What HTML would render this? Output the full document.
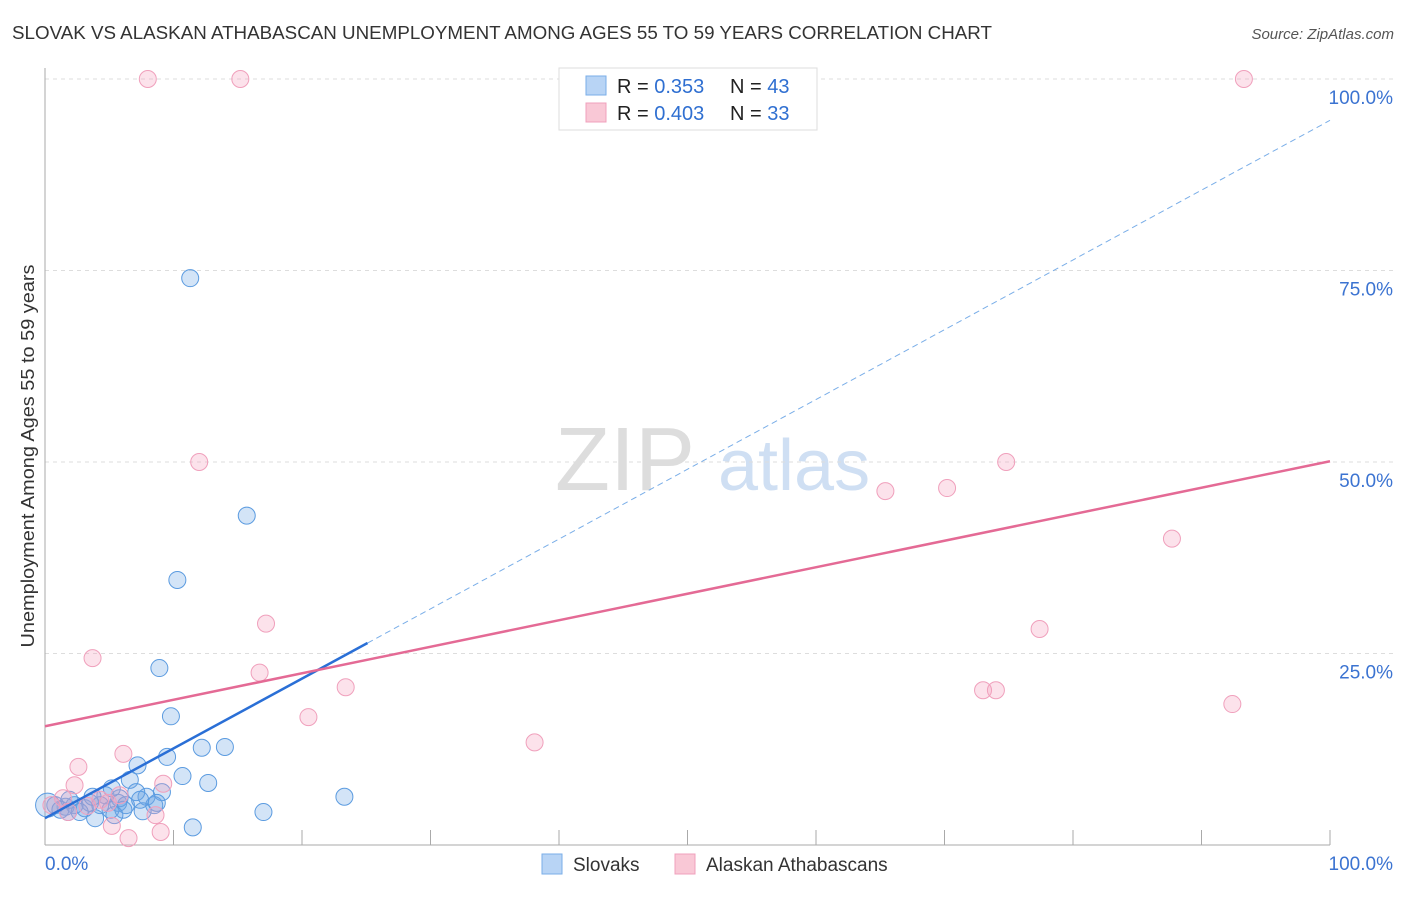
<!DOCTYPE html>
<html><head><meta charset="utf-8"><style>
body{margin:0;background:#fff;font-family:"Liberation Sans",sans-serif;}
svg text{font-family:"Liberation Sans",sans-serif;}
</style></head><body>
<svg id="c" width="1406" height="892" xmlns="http://www.w3.org/2000/svg">
<text x="12" y="39" font-size="18" fill="#333" textLength="980" lengthAdjust="spacingAndGlyphs">SLOVAK VS ALASKAN ATHABASCAN UNEMPLOYMENT AMONG AGES 55 TO 59 YEARS CORRELATION CHART</text>
<text x="1394" y="39" font-size="15" fill="#555" font-style="italic" text-anchor="end">Source: ZipAtlas.com</text>
<text x="34" y="456" font-size="18" fill="#333" text-anchor="middle" textLength="383" lengthAdjust="spacingAndGlyphs" transform="rotate(-90 34 456)">Unemployment Among Ages 55 to 59 years</text>
<text x="555" y="490" font-size="90" fill="#ddd" font-family="Liberation Serif">ZIP</text>
<text x="718" y="490" font-size="72" fill="#cfdff3">atlas</text>
<g id="grid"></g><g id="axes"></g><g id="marks"></g>
<g>
<rect x="559" y="68" width="258" height="62" fill="#fff" stroke="#ddd"/>
<rect x="586" y="76" width="20" height="19" fill="#b8d4f5" stroke="#7aaee8"/>
<rect x="586" y="103" width="20" height="19" fill="#f9c8d6" stroke="#f0a0bc"/>
<text x="617" y="93" font-size="20" fill="#222">R = <tspan fill="#2f6fd1">0.353</tspan><tspan x="730">N = </tspan><tspan fill="#2f6fd1">43</tspan></text>
<text x="617" y="120" font-size="20" fill="#222">R = <tspan fill="#2f6fd1">0.403</tspan><tspan x="730">N = </tspan><tspan fill="#2f6fd1">33</tspan></text>
</g>
<g>
<rect x="542" y="854" width="20" height="20" fill="#b8d4f5" stroke="#7aaee8"/>
<text x="573" y="871" font-size="19" fill="#333">Slovaks</text>
<rect x="675" y="854" width="20" height="20" fill="#f9c8d6" stroke="#f0a0bc"/>
<text x="706" y="871" font-size="19" fill="#333">Alaskan Athabascans</text>
</g>
</svg>
<script>
const yTicks=[100,75,50,25];
const yTickLabels=["100.0%","75.0%","50.0%","25.0%"];
const xTickLabels=["0.0%","100.0%"];
const blueX=[11.3,15.7,10.3,8.9,9.8,9.5,12.2,14,7.2,10.7,12.7,6.6,23.3,17,11.5,9.1,7.9,8.5,7.6,5.7,5.1,3.9,4.7,3.1,2.3,1.6,0.8,0.2,5.8,6.3,4.3,3.5,1.9,1.2,7.1,5.2,8.7,2.7,7.4,6.1,3.7,1.8,5.4];
const blueY=[74,43,34.6,23.1,16.8,11.5,12.7,12.8,10.4,9,8.1,8.5,6.3,4.3,2.3,6.9,6.3,5.2,4.4,5.5,4.6,3.5,6.5,4.8,5.2,5,5.2,5.2,6.1,5.2,5.2,5.5,5.9,4.6,6.9,7.4,5.5,4.3,5.9,4.6,6.3,4.3,3.9];
const pinkX=[8,15.2,93.3,12,74.8,70.2,65.4,87.7,17.2,77.4,3.7,16.7,23.4,73,74,92.4,20.5,38.1,6.1,2.6,2.3,9.2,5.8,1.4,5.2,6.5,9,8.6,4.3,3.3,1.8,0.5,4.9];
const pinkY=[100,100,100,50,50,46.6,46.2,40,28.9,28.2,24.4,22.5,20.6,20.2,20.2,18.4,16.7,13.4,11.9,10.2,7.8,8,6.5,6.1,2.5,0.9,1.7,3.9,5.9,5.1,4.3,5.2,5.5];
const blueTrend=[3.5,94.6]; const blueSolidEnd=25.1;
const pinkTrend=[15.5,50.1];
const NS="http://www.w3.org/2000/svg";
const sx=v=>45+v*12.85, sy=v=>845-v*7.66;
function mk(t,a,p){const e=document.createElementNS(NS,t);for(const k in a)e.setAttribute(k,a[k]);document.getElementById(p).appendChild(e);return e;}
yTicks.forEach((t,i)=>{
 const l=mk('line',{x1:45,x2:1393,y1:sy(t),y2:sy(t),stroke:'#ddd','stroke-dasharray':'4,4'},'grid');
 
 
 const tx=mk('text',{x:1393,y:sy(t)+25,'font-size':19,fill:'#3b73d1','text-anchor':'end'},'axes');
 tx.textContent=yTickLabels[i];
 
 
});
mk('line',{x1:45,x2:45,y1:68,y2:845,stroke:'#aaa'},'axes');
mk('line',{x1:45,x2:1330,y1:845,y2:845,stroke:'#aaa'},'axes');
for(let i=1;i<=10;i++){const t=mk('line',{x1:sx(i*10),x2:sx(i*10),y1:830,y2:845,stroke:'#aaa'},'axes');}
[[0,'start',45],[100,'end',1393]].forEach((d,i)=>{const t=mk('text',{x:d[2],y:870,'font-size':19,fill:'#3b73d1','text-anchor':d[1]},'axes');t.textContent=xTickLabels[i];});
blueX.forEach((x,i)=>{const c=mk('circle',{cx:sx(x),cy:sy(blueY[i]),r:(x<0.5?12:8.5),fill:'rgba(110,165,230,0.3)',stroke:'#5b9be0','stroke-width':1},'marks');});
pinkX.forEach((x,i)=>{const c=mk('circle',{cx:sx(x),cy:sy(pinkY[i]),r:8.5,fill:'rgba(245,160,190,0.3)',stroke:'#f0a0bc','stroke-width':1},'marks');});
const by=x=>blueTrend[0]+(blueTrend[1]-blueTrend[0])*x/100;
let l=mk('line',{x1:sx(0),y1:sy(by(0)),x2:sx(blueSolidEnd),y2:sy(by(blueSolidEnd)),stroke:'#2a6fd6','stroke-width':2.5},'marks');


l=mk('line',{x1:sx(blueSolidEnd),y1:sy(by(blueSolidEnd)),x2:sx(100),y2:sy(by(100)),stroke:'#7aaee8','stroke-width':1,'stroke-dasharray':'6,4'},'marks');


l=mk('line',{x1:sx(0),y1:sy(pinkTrend[0]),x2:sx(100),y2:sy(pinkTrend[1]),stroke:'#e46a95','stroke-width':2.5},'marks');


</script>
</body></html>
